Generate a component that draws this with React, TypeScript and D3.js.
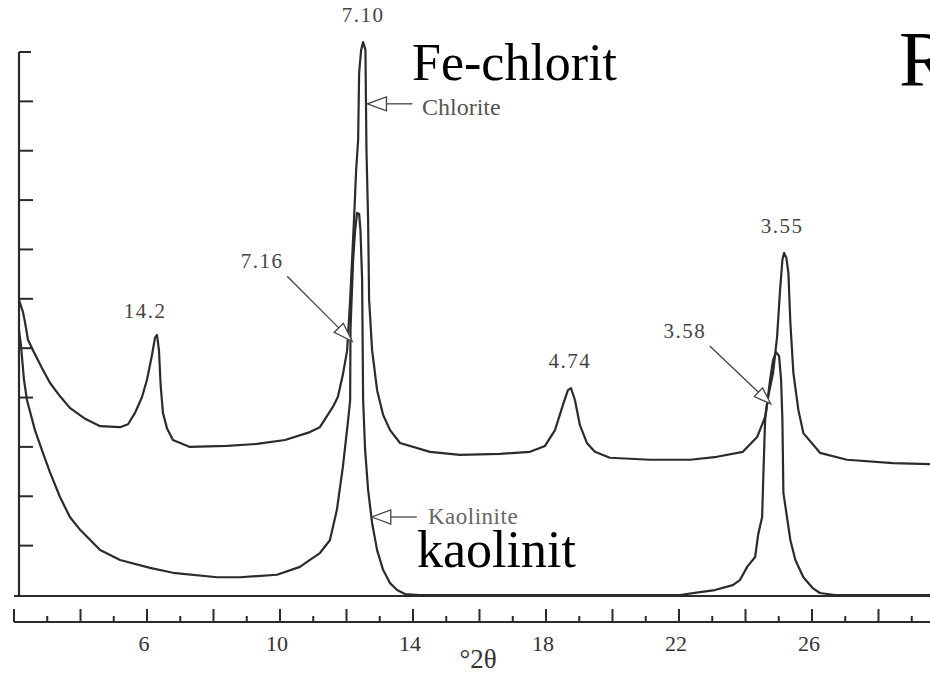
import React, { useEffect, useRef } from 'react'
import * as d3 from 'd3'

// upper trace (Fe-chlorite)
const chloriteTheta = [2.18, 2.3, 2.36, 2.45, 2.6, 2.87, 3.11, 3.41, 3.71, 4.17, 4.62, 5.22, 5.46, 5.67, 5.88, 6.03, 6.18, 6.27, 6.33, 6.39, 6.44, 6.51, 6.63, 6.81, 7.32, 8.44, 9.34, 10.18, 10.93, 11.23, 11.62, 11.77, 11.92, 12.05, 12.14, 12.26, 12.32, 12.38, 12.41, 12.47, 12.53, 12.6, 12.63, 12.68, 12.71, 12.8, 12.95, 13.13, 13.34, 13.64, 14.54, 15.44, 16.65, 17.55, 18.0, 18.3, 18.54, 18.69, 18.78, 18.9, 19.05, 19.26, 19.5, 19.95, 21.16, 22.36, 23.17, 23.95, 24.38, 24.62, 24.71, 24.86, 24.98, 25.07, 25.14, 25.19, 25.26, 25.32, 25.38, 25.47, 25.62, 25.77, 26.27, 27.08, 28.47, 29.58]
const chloriteCounts = [5.98, 5.73, 5.53, 5.17, 4.96, 4.6, 4.3, 4.03, 3.79, 3.57, 3.42, 3.4, 3.46, 3.69, 4.01, 4.36, 4.86, 5.21, 5.27, 4.96, 4.25, 3.69, 3.38, 3.14, 3.0, 3.02, 3.06, 3.14, 3.3, 3.4, 3.81, 4.01, 4.46, 4.96, 5.98, 7.66, 8.61, 9.22, 10.58, 11.04, 11.2, 11.04, 9.02, 7.6, 5.98, 4.96, 4.15, 3.65, 3.34, 3.08, 2.9, 2.84, 2.86, 2.9, 3.02, 3.34, 3.85, 4.15, 4.19, 3.95, 3.44, 3.08, 2.9, 2.78, 2.74, 2.74, 2.8, 2.9, 3.2, 3.61, 4.01, 4.5, 5.23, 6.18, 6.79, 6.93, 6.83, 6.52, 5.51, 4.5, 3.75, 3.28, 2.88, 2.74, 2.67, 2.65]

// lower trace (kaolinite)
const kaoliniteTheta = [2.18, 2.24, 2.33, 2.42, 2.66, 2.9, 3.11, 3.41, 3.71, 4.02, 4.62, 5.22, 6.12, 6.81, 8.14, 8.83, 9.94, 10.63, 10.93, 11.23, 11.53, 11.74, 11.92, 12.08, 12.14, 12.15, 12.23, 12.29, 12.35, 12.41, 12.45, 12.5, 12.53, 12.59, 12.68, 12.8, 12.95, 13.13, 13.34, 13.55, 13.79, 14.24, 22.06, 22.66, 23.11, 23.65, 23.86, 24.08, 24.32, 24.41, 24.53, 24.56, 24.62, 24.77, 24.86, 24.95, 25.04, 25.1, 25.14, 25.17, 25.29, 25.38, 25.53, 25.77, 26.05, 26.27, 26.72, 29.58]
const kaoliniteCounts = [5.37, 5.06, 4.36, 3.95, 3.34, 2.88, 2.49, 1.99, 1.58, 1.32, 0.91, 0.71, 0.55, 0.45, 0.36, 0.36, 0.41, 0.57, 0.71, 0.85, 1.11, 1.72, 2.59, 3.55, 3.95, 5.37, 6.79, 7.39, 7.74, 7.72, 7.39, 6.38, 3.95, 2.94, 2.13, 1.46, 0.91, 0.51, 0.24, 0.1, 0.02, 0, 0, 0.06, 0.1, 0.2, 0.3, 0.57, 0.77, 1.22, 1.58, 2.27, 3.55, 4.36, 4.76, 4.92, 4.84, 4.36, 3.55, 2.07, 1.52, 1.11, 0.71, 0.36, 0.14, 0.04, 0, 0]

const xTickLabels = [6, 10, 14, 18, 22, 26]
const yTicks = [1, 2, 3, 4, 5, 6, 7, 8, 9, 10, 11]

// d-spacing labels, placed in chart units (2theta, counts)
const peakLabels = ['7.10', '14.2', '7.16', '4.74', '3.55', '3.58']
const peakLabelTheta = [12.53, 5.97, 9.49, 18.75, 25.13, 22.21]
const peakLabelCounts = [11.61, 5.61, 6.62, 4.6, 7.33, 5.21]

const width = 930
const height = 673

const App = () => {
  const ref = useRef<SVGSVGElement>(null)

  useEffect(() => {
    const svg = d3.select(ref.current)
    svg.selectAll('*').remove()

    const x = d3.scaleLinear().domain([2, 30]).range([13, 944])
    const y = d3.scaleLinear().domain([0, 11]).range([595, 52])
    const ink = '#2b2b2b'
    const serif = '"Liberation Serif", "Times New Roman", serif'

    svg.append('rect').attr('width', width).attr('height', height).attr('fill', '#fff')

    // left intensity axis
    svg.append('line')
      .attr('x1', 19).attr('x2', 19)
      .attr('y1', y(11)).attr('y2', y(0) + 2)
      .attr('stroke', ink).attr('stroke-width', 2.2)
    svg.selectAll('yTicks')
      .data(yTicks)
      .enter()
      .append('line')
      .attr('x1', 19)
      .attr('x2', (d) => (d === 11 ? 31 : 33))
      .attr('y1', (d) => y(d))
      .attr('y2', (d) => y(d))
      .attr('stroke', ink).attr('stroke-width', 2)

    // baseline
    svg.append('line')
      .attr('x1', 14).attr('x2', width)
      .attr('y1', y(0) + 1).attr('y2', y(0) + 1)
      .attr('stroke', ink).attr('stroke-width', 2)

    // separate 2theta scale bar
    const barY = 622
    svg.append('line')
      .attr('x1', 14).attr('x2', width)
      .attr('y1', barY).attr('y2', barY)
      .attr('stroke', ink).attr('stroke-width', 2)
    svg.selectAll('xTicks')
      .data(d3.range(2, 30))
      .enter()
      .append('line')
      .attr('x1', (d) => x(d) + 1)
      .attr('x2', (d) => x(d) + 1)
      .attr('y1', (d) => (d % 2 === 0 ? barY - 13 : barY - 6))
      .attr('y2', barY)
      .attr('stroke', ink).attr('stroke-width', 2)
    svg.selectAll('xLabels')
      .data(xTickLabels)
      .enter()
      .append('text')
      .attr('x', (d) => x(d) - 2)
      .attr('y', 651)
      .attr('text-anchor', 'middle')
      .style('font-family', serif)
      .style('font-size', '22px')
      .style('fill', '#333')
      .text((d) => d)
    svg.append('text')
      .attr('x', 478).attr('y', 668)
      .attr('text-anchor', 'middle')
      .style('font-family', serif)
      .style('font-size', '27px')
      .style('fill', '#333')
      .text('°2θ')

    // traces
    const line = d3.line<[number, number]>()
      .x((d) => x(d[0]))
      .y((d) => y(d[1]))
    const chlorite = chloriteTheta.map((t, i) => [t, chloriteCounts[i]] as [number, number])
    const kaolinite = kaoliniteTheta.map((t, i) => [t, kaoliniteCounts[i]] as [number, number])
    ;[kaolinite, chlorite].forEach((pts) => {
      svg.append('path')
        .attr('d', line(pts))
        .attr('fill', 'none')
        .attr('stroke', ink)
        .attr('stroke-width', 2.2)
        .attr('stroke-linejoin', 'round')
    })

    // open-triangle arrows
    const arrow = (tx: number, ty: number, fx: number, fy: number, len: number, hw: number) => {
      const dx = fx - tx
      const dy = fy - ty
      const l = Math.hypot(dx, dy)
      const ux = dx / l
      const uy = dy / l
      const bx = tx + ux * len
      const by = ty + uy * len
      svg.append('line')
        .attr('x1', bx).attr('y1', by).attr('x2', fx).attr('y2', fy)
        .attr('stroke', '#444').attr('stroke-width', 1.3)
      svg.append('polygon')
        .attr('points', [[tx, ty], [bx - uy * hw, by + ux * hw], [bx + uy * hw, by - ux * hw]].map((p) => p.join(',')).join(' '))
        .attr('fill', '#fff')
        .attr('stroke', '#444')
        .attr('stroke-width', 1.3)
    }
    arrow(x(12.66), y(9.95), x(12.66) + 45, y(9.95), 19, 7)
    arrow(x(12.79), y(1.58), x(12.79) + 45, y(1.58), 19, 7)
    arrow(x(12.2), y(5.14), x(12.2) - 65, y(5.14) - 65, 19, 6.5)
    arrow(x(24.79), y(3.87), x(24.79) - 61, y(3.87) - 58, 17, 6)

    svg.append('text')
      .attr('x', 422).attr('y', 115)
      .style('font-family', serif).style('font-size', '24px').style('fill', '#555')
      .text('Chlorite')
    svg.append('text')
      .attr('x', 428).attr('y', 524)
      .style('font-family', serif).style('font-size', '23px').style('fill', '#666')
      .style('letter-spacing', '0.5px')
      .text('Kaolinite')

    svg.selectAll('peakLabels')
      .data(peakLabels)
      .enter()
      .append('text')
      .attr('x', (d, i) => x(peakLabelTheta[i]))
      .attr('y', (d, i) => y(peakLabelCounts[i]))
      .attr('text-anchor', 'middle')
      .style('font-family', serif)
      .style('font-size', '21px')
      .style('letter-spacing', '1.5px')
      .style('fill', '#444')
      .text((d) => d)

    // big overlay captions
    svg.append('text')
      .attr('x', 412).attr('y', 80)
      .style('font-family', serif).style('font-size', '52px').style('fill', '#000')
      .text('Fe-chlorit')
    svg.append('text')
      .attr('x', 417).attr('y', 567)
      .style('font-family', serif).style('font-size', '52px').style('fill', '#000')
      .text('kaolinit')
    svg.append('text')
      .attr('x', 899).attr('y', 85)
      .style('font-family', serif).style('font-size', '78px').style('fill', '#000')
      .text('R')
  }, [])

  return (
    <svg
      ref={ref}
      width={width}
      height={height}
      style={{ position: 'absolute', left: 0, top: 0, display: 'block' }}
    />
  )
}

export default App
